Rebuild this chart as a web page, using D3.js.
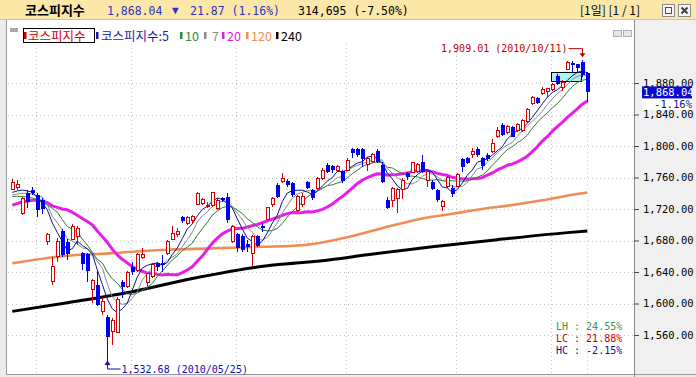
<!DOCTYPE html>
<html><head><meta charset="utf-8">
<script src="https://cdn.jsdelivr.net/npm/d3@7"></script>
<style>body{margin:0;background:#fff}svg{display:block}</style>
</head><body>
<svg id="c" width="696" height="377"></svg>
<script>
// ---------- data ----------
const openP = [1745,1747.5,1714.5,1740.7,1744.1,1737.8,1731.4,1678.5,1627.7,1659.4,
1692.5,1678.5,1681.5,1684.8,1663.7,1662.8,1618,1623.5,1589.6,1583.3,
1564.2,1562.9,1627.7,1621.3,1645.9,1642.5,1658.6,1626.4,1634,1651.8,
1651,1663.7,1681.5,1687,1709.4,1701.8,1706,1726.3,1727.2,1722.9,
1724.6,1720.8,1733.5,1735.6,1678.5,1688,1686,1675.5,1663.7,1685.7,
1698.4,1706.9,1725.1,1750.5,1754.7,1756,1752.6,1717.9,1725.1,1754,
1744,1746.2,1759,1776,1774.6,1769.5,1768.2,1769.5,1795.8,1795.8,
1796.2,1777.1,1780,1793.6,1775.9,1731.4,1731.4,1733.5,1744.9,1765.3,
1766.1,1767.4,1780,1756,1754.7,1744.1,1723,1748.4,1746.2,1749.2,
1783,1784.3,1788.6,1795.8,1784.3,1788.6,1792.8,1811.8,1826.7,1816.9,
1823.7,1820.3,1819.5,1830.9,1854.2,1860.5,1867,1869,1872,1889,
1874,1897.4,1905,1903.5,1907,1893];
const highP = [1757.6,1756.8,1734.8,1744.1,1748.3,1739.9,1733.5,1689,1659.4,1682.7,
1694.2,1681.5,1700.9,1698.4,1665.8,1664.5,1630.7,1642.5,1608.6,1585.4,
1581.1,1607.8,1629.8,1641.2,1653.1,1663.7,1670,1639.1,1651,1653.1,
1661.6,1680.6,1698.4,1695.4,1711.1,1711.1,1712.4,1742,1733.5,1729.3,
1742,1733.5,1735.6,1740.7,1699.7,1690,1688,1680.6,1686.5,1686.9,
1701.8,1722.9,1734.8,1752.6,1765.3,1758,1754.7,1737.8,1739.9,1756,
1746,1761,1772,1778,1776,1776,1769.5,1784.3,1797,1797,
1797,1786.5,1790.7,1795.8,1780,1735.6,1748.3,1746.2,1759,1767.4,
1780,1778,1788.6,1769.5,1756.8,1746,1732,1761.9,1750,1766,
1784.3,1786.5,1797,1798.3,1786.5,1790.7,1808.5,1823.7,1828.8,1826.7,
1825.4,1829.6,1833.9,1847.8,1863.5,1861.8,1875.3,1874,1880.4,1891,
1884,1908,1908.3,1904.5,1909.01,1893.5];
const lowP = [1744,1744.1,1712.4,1720.8,1737.8,1709.4,1713.6,1674.3,1623.5,1653.1,
1659.4,1655.2,1680.6,1674.3,1642.5,1627.7,1600.2,1597.2,1585.4,1532.68,
1547.3,1562.1,1606.5,1619.2,1636.2,1640.4,1656.1,1617.1,1631.9,1641.7,
1640.4,1661.6,1680.6,1684.8,1701.8,1699.7,1701.8,1725,1725,1720.8,
1723,1718.7,1729.3,1702.6,1676.4,1666,1665,1665.8,1647.6,1672.1,
1691.2,1706,1723,1733.5,1752.6,1748,1735.6,1716.6,1723,1745,
1732,1744,1757,1765.3,1766,1767.4,1753.4,1768.2,1784.3,1786.5,
1773.7,1768.7,1778,1778.8,1753.4,1719.6,1723,1715.3,1732.3,1756.8,
1765.3,1766.1,1766.1,1748.4,1744,1729.3,1718,1746.2,1735.6,1748.4,
1767.4,1777.1,1784.3,1786.5,1769.5,1781.4,1791.5,1809.7,1812.6,1815.2,
1811,1818.2,1818.2,1829.6,1852.1,1853.3,1864.8,1862,1870.3,1877,
1870,1896,1894,1892.5,1888,1856.5];
const closeP = [1753.4,1750.5,1733.5,1729.3,1739.9,1718.7,1720,1687,1646.7,1678.5,
1661.6,1662.5,1698.4,1695.4,1650.1,1641.7,1629,1598,1602.3,1557.9,
1579,1605.3,1621.3,1639.1,1640.4,1661.6,1662.8,1638.3,1648.9,1645.9,
1648.4,1678.5,1689,1691.2,1704.7,1709.4,1711.1,1739.9,1732.3,1725,
1740.7,1731.4,1731.4,1706,1698.4,1670,1668,1672.1,1685.4,1673,
1696.7,1722.1,1733.5,1735.6,1758.9,1751,1737.8,1735.6,1736.5,1747,
1734,1758.9,1769.5,1767.4,1769.5,1773.5,1756,1782.2,1790.7,1788.6,
1783.5,1784.3,1789.4,1780,1754.7,1720.8,1746.2,1744.9,1756.8,1761.1,
1778.8,1775.9,1767.4,1767.4,1745,1731.4,1729.3,1760.2,1739,1763.2,
1773.7,1778.8,1792.8,1788.6,1774.6,1783,1803.4,1820.3,1814,1824.5,
1811.8,1827.9,1833,1846.6,1861.8,1855,1872,1873.2,1877.5,1879,
1881,1905.8,1902.5,1898.6,1889.91,1868.04];

// moving-average values before each window is full
const ma5Lead  = [1741,1743,1744,1743];
const ma7Lead  = [1738,1739,1740,1740,1739,1737];
const ma10Lead = [1736,1736,1736,1735,1734,1732,1729,1725,1721];
const ma20Lead = [1725,1727,1729,1730,1731,1731,1730,1728,1724,1722,1720,1719,1716,1712,1708,1704,1700,1692,1685];
// long averages read at sample candles
const ma120Idx = [0,10,20,30,40,50,58,64,70,76,82,88,94,100,106,112,115];
const ma120Val = [1651,1660,1664,1668,1670,1672,1674,1680,1689,1699,1708,1714,1720,1725,1731,1738,1741];
const ma240Idx = [0,11,24,37,51,58,64,71,84,97,111,115];
const ma240Val = [1590,1601,1615,1633,1648,1652,1656,1662,1672,1681,1690,1692];

const monthStartIdx = [5,24,45,67,89,108];
const yTicks = [1560,1600,1640,1680,1720,1760,1800,1840,1880];
const boxIdx = [108,114];
const boxRange = [1882.5,1893.5];
const legendItems = ["코스피지수:5","10","7","20","120","240"];
const legendColors = ["#1c1ca8","#2e8b3a","#8c8c8c","#e020e0","#f0905a","#000000"];

// ---------- scales ----------
const svg = d3.select("#c");
const n = closeP.length;
const x = d3.scaleLinear().domain([0, n-1]).range([12.3, 587.3]);
const y = d3.scaleLinear().domain([1560, 1880]).range([335, 83]);
const MONO = "'DejaVu Sans Mono', monospace";
const KR = "'Noto Sans CJK KR', sans-serif";

function movingAvg(len, lead){
  return closeP.map((c,i)=> i < len-1 ? lead[i] : d3.mean(closeP.slice(i-len+1, i+1)));
}
const ma5 = movingAvg(5, ma5Lead), ma7 = movingAvg(7, ma7Lead),
      ma10 = movingAvg(10, ma10Lead), ma20 = movingAvg(20, ma20Lead);

// ---------- frame ----------
svg.append("rect").attr("x",0).attr("y",0).attr("width",696).attr("height",377).attr("fill","#ffffff");
svg.append("rect").attr("x",0).attr("y",0).attr("width",696).attr("height",19).attr("fill","#fbe8a8");
svg.append("line").attr("x1",0).attr("x2",696).attr("y1",19.5).attr("y2",19.5).attr("stroke","#d6c48a");
svg.append("rect").attr("x",0).attr("y",20).attr("width",6).attr("height",357).attr("fill","#ececec");
svg.append("line").attr("x1",6.5).attr("x2",6.5).attr("y1",20).attr("y2",377).attr("stroke","#9a9a9a");
svg.append("rect").attr("x",634).attr("y",20).attr("width",62).attr("height",357).attr("fill","#f0f0f0");
svg.append("rect").attr("x",6).attr("y",375).attr("width",690).attr("height",2).attr("fill","#ececec");
svg.append("line").attr("x1",6).attr("x2",696).attr("y1",374.5).attr("y2",374.5).attr("stroke","#9a9a9a");

// ---------- grid ----------
const grid = svg.append("g").attr("stroke","#c4c4c4").attr("stroke-dasharray","1,3");
grid.selectAll("line.h").data(yTicks).join("line").attr("class","h")
  .attr("x1",8).attr("x2",634).attr("y1",d=>Math.round(y(d))+0.5).attr("y2",d=>Math.round(y(d))+0.5);
grid.selectAll("line.v").data(monthStartIdx).join("line").attr("class","v")
  .attr("x1",d=>Math.round(x(d))-0.5).attr("x2",d=>Math.round(x(d))-0.5).attr("y1",44).attr("y2",374);
grid.append("line").attr("x1",Math.round(x(n-1))+0.5).attr("x2",Math.round(x(n-1))+0.5)
  .attr("y1",y(lowP[n-1])+3).attr("y2",374);

// ---------- box ----------
svg.append("rect").attr("x",Math.round(x(boxIdx[0]))-0.5).attr("y",Math.round(y(boxRange[1]))+0.5)
  .attr("width",Math.round(x(boxIdx[1]) - x(boxIdx[0])))
  .attr("height",Math.round(y(boxRange[0]) - y(boxRange[1])))
  .attr("fill","#a6f4f4").attr("stroke","#000").attr("stroke-width",1);

// ---------- moving averages ----------
const lineIdx = d3.line().x((d,i)=>x(i)).y(d=>y(d));
const lineSample = (idx)=> d3.line().x((d,k)=>x(idx[k])).y(d=>y(d)).curve(d3.curveMonotoneX);
svg.append("path").attr("d", lineSample(ma240Idx)(ma240Val)).attr("fill","none").attr("stroke","#000").attr("stroke-width",3);
svg.append("path").attr("d", lineSample(ma120Idx)(ma120Val)).attr("fill","none").attr("stroke","#f08c54").attr("stroke-width",2.6);
svg.append("path").attr("d", lineIdx(ma20)).attr("fill","none").attr("stroke","#e81ee8").attr("stroke-width",3).attr("stroke-linejoin","round");
svg.append("path").attr("d", lineIdx(ma10)).attr("fill","none").attr("stroke","#2a7a34").attr("stroke-width",1);
svg.append("path").attr("d", lineIdx(ma7)).attr("fill","none").attr("stroke","#8a8a8a").attr("stroke-width",1);
svg.append("path").attr("d", lineIdx(ma5)).attr("fill","none").attr("stroke","#101090").attr("stroke-width",1);

// ---------- candles ----------
const RED = "#d80000", BLUE = "#0000f0";
const cg = svg.append("g").attr("shape-rendering","crispEdges");
const candles = d3.range(n).map(i=>({i, o:openP[i], h:highP[i], l:lowP[i], c:closeP[i]}));
const cs = cg.selectAll("g").data(candles).join("g");
cs.append("line")
  .attr("x1",d=>Math.round(x(d.i))+0.5).attr("x2",d=>Math.round(x(d.i))+0.5)
  .attr("y1",d=>y(d.h)).attr("y2",d=>y(d.l))
  .attr("stroke",d=>d.c>=d.o?RED:BLUE);
cs.append("rect")
  .attr("x",d=>Math.round(x(d.i))-1)
  .attr("y",d=>y(Math.max(d.o,d.c)))
  .attr("width",d=>d.c>=d.o ? 3 : 4)
  .attr("height",d=>Math.max(1.5, y(Math.min(d.o,d.c)) - y(Math.max(d.o,d.c))))
  .attr("fill",d=>d.c>=d.o?"#ffffff":BLUE)
  .attr("stroke",d=>d.c>=d.o?RED:"none").attr("stroke-width",1);

// ---------- high / low annotations ----------
const hiI = d3.maxIndex(highP), loI = d3.minIndex(lowP);
const hx = Math.round(x(hiI))+0.5, hy = y(highP[hiI]);
svg.append("path").attr("d",`M${hx-14},${hy-11.5}H${hx}V${hy-5}`).attr("fill","none").attr("stroke","#c00000");
svg.append("path").attr("d",`M${hx-3},${hy-7}L${hx+3},${hy-7}L${hx},${hy-3}Z`).attr("fill","#c00000");
svg.append("text").attr("x",hx-15).attr("y",hy-8).attr("text-anchor","end")
  .attr("font-family",MONO).attr("font-size",10).attr("fill","#c00000")
  .text(`${d3.format(",.2f")(highP[hiI])} (2010/10/11)`);
const lx = Math.round(x(loI))+0.5, ly = y(lowP[loI]);
svg.append("path").attr("d",`M${lx},${ly}V${ly+12.5}H${lx+13}`).attr("fill","none").attr("stroke","#1010b0");
svg.append("path").attr("d",`M${lx-3},${ly+8.5}L${lx+3},${ly+8.5}L${lx},${ly+4}Z`).attr("fill","#1010b0");
svg.append("text").attr("x",lx+14).attr("y",ly+16.5)
  .attr("font-family",MONO).attr("font-size",10).attr("fill","#1010b0")
  .text(`${d3.format(",.2f")(lowP[loI])} (2010/05/25)`);

// ---------- LH / LC / HC ----------
const last = closeP[n-1], hi = highP[hiI], lo = lowP[loI];
const stats = [["LH", (hi/lo-1)*100, "#3f8f4f"], ["LC", (last/lo-1)*100, "#c80000"], ["HC", (last/hi-1)*100, "#101090"]];
svg.selectAll("text.st").data(stats).join("text").attr("class","st")
  .attr("x",556).attr("y",(d,k)=>330+k*12.2)
  .attr("font-family",MONO).attr("font-size",10).attr("fill",d=>d[2])
  .text(d=>`${d[0]} : ${d[1].toFixed(2)}%`);

// ---------- right axis ----------
const ax = svg.append("g").attr("transform","translate(634,0)")
  .call(d3.axisRight(y).tickValues(yTicks).tickSize(5).tickPadding(4).tickFormat(d3.format(",.2f")));
ax.select(".domain").attr("stroke","#8c8c8c").attr("d","M0.5,20V377");
ax.selectAll(".tick line").attr("stroke","#444");
ax.selectAll(".tick text").attr("font-family",MONO).attr("font-size",10.5).attr("fill","#000");
// current price tag
svg.append("rect").attr("x",642).attr("y",y(last)-6).attr("width",50).attr("height",12).attr("fill","#0a0ad0");
svg.append("text").attr("x",643).attr("y",y(last)+4).attr("font-family",MONO).attr("font-size",10.5)
  .attr("fill","#fff").text(d3.format(",.2f")(last));
svg.append("rect").attr("x",642).attr("y",y(last)+6.5).attr("width",50).attr("height",11).attr("fill","#fff");
const pct = (last/closeP[n-2]-1)*100;
svg.append("text").attr("x",692).attr("y",y(last)+15.5).attr("text-anchor","end").attr("font-family",MONO)
  .attr("font-size",10.5).attr("fill","#101090").text(`${pct.toFixed(2)}%`);

// ---------- legend ----------
svg.append("rect").attr("x",10).attr("y",28).attr("width",8).attr("height",4).attr("fill","#a8a8a8");
svg.append("rect").attr("x",23.5).attr("y",28.5).attr("width",71).attr("height",14).attr("fill","#fff").attr("stroke","#000");
svg.append("rect").attr("x",24).attr("y",32).attr("width",2.5).attr("height",7).attr("fill","#d00000");
svg.append("text").attr("x",28).attr("y",40.5).attr("font-family",KR).attr("font-size",12.5).attr("fill","#d00000").text("코스피지수");
const legX = [96,180,204,222,246,276];
const lg = svg.selectAll("g.lg").data(legendItems).join("g").attr("class","lg")
  .attr("transform",(d,k)=>`translate(${legX[k]},0)`);
lg.append("rect").attr("x",0).attr("y",32).attr("width",2.5).attr("height",7).attr("fill",(d,k)=>legendColors[k]);
lg.append("text").attr("x",(d,k)=>k===2?8:5).attr("y",40.5).attr("font-family",KR).attr("font-size",12.5)
  .attr("fill",(d,k)=>legendColors[k]).text(d=>d);
// panel icons
[613,623].forEach(px=>{
  svg.append("rect").attr("x",px+0.5).attr("y",30.5).attr("width",8).attr("height",6).attr("fill","#e6e6e6").attr("stroke","#b0b0b0");
});

// ---------- header ----------
svg.append("text").attr("x",25).attr("y",14.5).attr("font-family",KR).attr("font-size",13).attr("font-weight","bold").attr("fill","#000").text("코스피지수");
svg.append("text").attr("x",107).attr("y",14.5).attr("font-family",MONO).attr("font-size",11.5).attr("fill","#3030c0")
  .text(d3.format(",.2f")(last));
svg.append("text").attr("x",172).attr("y",14).attr("font-family",MONO).attr("font-size",11).attr("fill","#3030c0").text("▼");
svg.append("text").attr("x",190).attr("y",14.5).attr("font-family",MONO).attr("font-size",11.5).attr("fill","#3030c0")
  .text(`${(closeP[n-2]-last).toFixed(2)} (${Math.abs(pct).toFixed(2)}%)`);
svg.append("text").attr("x",298).attr("y",14.5).attr("font-family",MONO).attr("font-size",11.5).attr("fill","#000")
  .text("314,695 (-7.50%)");
svg.append("text").attr("x",580).attr("y",14.5).attr("font-family",KR).attr("font-size",12).attr("fill","#000")
  .text("[1일] [1 / 1]");
svg.append("rect").attr("x",662.5).attr("y",4.5).attr("width",12).attr("height",12).attr("fill","#f4f4f4").attr("stroke","#8c8c8c");
svg.append("rect").attr("x",665.5).attr("y",7.5).attr("width",6).attr("height",6).attr("fill","none").attr("stroke","#505050");
svg.append("rect").attr("x",678.5).attr("y",4.5).attr("width",12).attr("height",12).attr("fill","#f4f4f4").attr("stroke","#8c8c8c");
svg.append("path").attr("d","M681.5,7.5L687.5,13.5M687.5,7.5L681.5,13.5").attr("stroke","#404040").attr("stroke-width",2);
</script>
</body></html>
